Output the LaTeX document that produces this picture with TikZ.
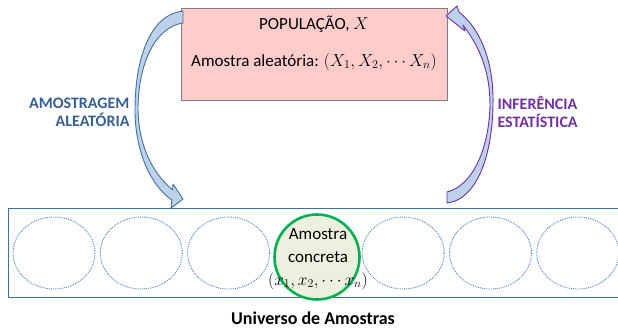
\documentclass[tikz,border=0pt]{standalone}
\usepackage{fontspec}
\setmainfont{Carlito}
\usepackage{xcolor}
\usetikzlibrary{arrows.meta,shapes.geometric}

\definecolor{popfill}{RGB}{255,204,204}
\definecolor{popline}{RGB}{127,127,127}
\definecolor{uniline}{RGB}{65,113,156}
\definecolor{dotline}{RGB}{79,129,189}
\definecolor{greenline}{RGB}{0,176,80}
\definecolor{greenfill}{RGB}{235,241,222}
\definecolor{arrowfill}{RGB}{189,210,234}
\definecolor{bluetag}{RGB}{55,96,146}
\definecolor{purpletag}{RGB}{112,48,160}

\tikzset{
    popbox/.style={draw=popline, fill=popfill, line width=0.8, minimum width=266, minimum height=92},
    unibox/.style={draw=uniline, line width=1.2, minimum width=614, minimum height=89, anchor=north west},
    sample/.style={ellipse, draw=dotline, densely dotted, line width=0.9, minimum width=82, minimum height=72},
    chosen/.style={circle, draw=greenline, fill=greenfill, line width=2.6, minimum size=85},
    tag/.style={font=\fontsize{16}{18}\selectfont\bfseries}
}

\begin{document}
\begin{tikzpicture}[>=Stealth, x=1pt, y=-1pt, font=\fontsize{17}{21}\selectfont]
        \useasboundingbox (0,0) rectangle (618,329);

        % populacao
        \node[popbox] (pop) at (314,54) {};
        \node (poptitle) at (314,24) {POPULAÇÃO, $X$};
        \node (popsample) at (314,62) {Amostra aleatória: $(X_1, X_2, \cdots X_n)$};

        % universo de amostras
        \node[unibox] (uni) at (8,208) {};
        \foreach \i in {0, 1, 2, 4, 5, 6}{
            \node[sample] (s\i) at ({54+87.3*\i}, 253) {};
        }
        \node[chosen] (s3) at (317,257) {};
        \node[align=center, font=\fontsize{17}{23}\selectfont] (conc) at (318,259) {Amostra\\concreta\\$(x_1, x_2, \cdots x_n)$};
        \node[font=\fontsize{18}{20}\selectfont\bfseries, inner sep=1pt] (univ) at (313,318) {Universo de Amostras};

        % setas curvas
        \filldraw[draw=uniline, fill=arrowfill, line width=0.9, line join=round]
            (183,11) .. controls (152,14) and (135,55) .. (135,110)
            .. controls (135,150) and (150,185) .. (171.8,200)
            -- (171,208) -- (183,199) -- (173,184) -- (172.6,190)
            .. controls (155,175) and (139,150) .. (138,110)
            .. controls (138,62) and (156,27) .. (183,23) -- cycle;
        \filldraw[draw=purpletag, fill=arrowfill, line width=0.9, line join=round]
            (447,192) .. controls (472,186) and (489,150) .. (490,105)
            .. controls (490,75) and (482,50) .. (463,25)
            -- (465,31) -- (446,16) -- (457,6) -- (459,12)
            .. controls (482,30) and (494,65) .. (493,105)
            .. controls (492,160) and (475,200) .. (447,203) -- cycle;

        \node[tag, text=bluetag, anchor=east, align=right] (amost) at (133,112) {AMOSTRAGEM\\ALEATÓRIA};
        \node[tag, text=purpletag, anchor=west, align=left] (infer) at (494,112) {INFERÊNCIA\\ESTATÍSTICA};
\end{tikzpicture}
\end{document}
